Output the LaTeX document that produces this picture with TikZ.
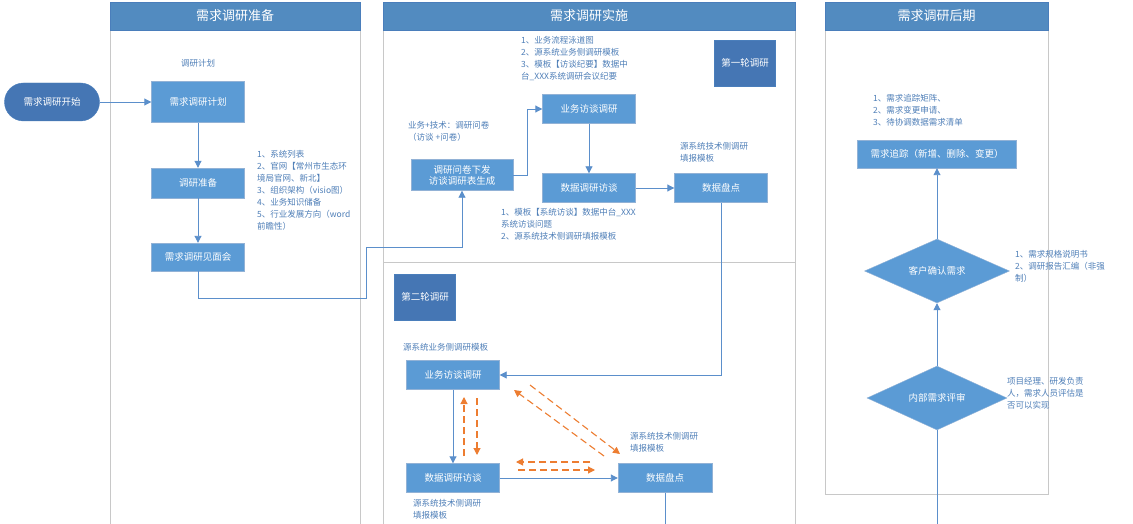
\documentclass[tikz,border=0pt]{standalone}
\usepackage{fontspec}
\setmainfont{Noto Sans CJK SC}
\usetikzlibrary{shapes.geometric,arrows.meta}
\definecolor{bx}{HTML}{5B9BD5}
\definecolor{bxd}{HTML}{4A7EBB}
\definecolor{dk}{HTML}{4576B4}
\definecolor{ln}{HTML}{5B8FCB}
\definecolor{tx}{HTML}{4F7FB8}
\definecolor{lane}{HTML}{C8C8C8}
\definecolor{org}{HTML}{ED7D31}
\tikzset{
 box/.style={draw=bxd!60,fill=bx,text=white,font=\fontsize{9.5}{11}\selectfont,minimum width=93pt,minimum height=29pt,align=center,inner sep=1pt},
 dbox/.style={draw=bxd,fill=dk,text=white,font=\fontsize{9.5}{11}\selectfont,minimum width=61pt,minimum height=46pt,inner sep=1pt},
 hdr/.style={draw=bxd,fill=bx!90!black,text=white,font=\fontsize{13}{15}\selectfont,minimum height=28pt,inner sep=0pt},
 dia/.style={diamond,aspect=2.3,draw=bxd!60,fill=bx,text=white,font=\fontsize{9.5}{11}\selectfont,inner sep=0pt,minimum width=145pt,minimum height=64pt},
 note/.style={text=tx,font=\fontsize{8.5}{12}\selectfont,align=left,inner sep=0pt},
 conn/.style={draw=ln,line width=0.9pt,-{Triangle[length=7pt,width=7pt]}},
 plain/.style={draw=ln,line width=0.9pt},
 od/.style={draw=org,line width=1.1pt,dash pattern=on 7pt off 4pt,-{Triangle[length=7pt,width=7pt]}},
 lanel/.style={draw=lane,line width=0.8pt}
}
\begin{document}
\begin{tikzpicture}[x=1pt,y=-1pt]
\useasboundingbox (0,0) rectangle (1133,524);
\fill[white] (0,0) rectangle (1133,524);
% lanes
\draw[lanel] (110,30) -- (110,524) (360,30) -- (360,524);
\draw[lanel] (383,30) -- (383,524) (795,30) -- (795,524) (383,262) -- (795,262);
\draw[lanel] (825,30) -- (825,494) -- (1048,494) -- (1048,30);
\node[hdr,minimum width=250pt] (h1) at (235,16) {需求调研准备};
\node[hdr,minimum width=412pt] (h2) at (589,16) {需求调研实施};
\node[hdr,minimum width=223pt] (h3) at (936.5,16) {需求调研后期};
% lane 1
\node[draw=bxd,fill=dk,text=white,rounded corners=19pt,minimum width=95pt,minimum height=38pt,font=\fontsize{9.5}{11}\selectfont] (start) at (52,102) {需求调研开始};
\node[box,minimum height=41pt] (plan) at (198,102) {需求调研计划};
\node[box,minimum height=30pt] (prep) at (198,183) {调研准备};
\node[box,minimum height=28pt] (meet) at (198,257) {需求调研见面会};
\node[note] (n0) at (198,63) {调研计划};
\node[note,anchor=north west] (n1) at (257,150) {1、系统列表\\2、官网【常州市生态环\\境局官网、新北】\\3、组织架构（visio图）\\4、业务知识储备\\5、行业发展方向（word\\前瞻性）};
\draw[conn] (start) -- (plan);
\draw[conn] (plan) -- (prep);
\draw[conn] (prep) -- (meet);
% lane 2 round 1
\node[box,minimum width=102pt,minimum height=31pt] (wj) at (462,175) {调研问卷下发\\访谈调研表生成};
\node[box] (yw1) at (589,109) {业务访谈调研};
\node[box] (sj1) at (589,188) {数据调研访谈};
\node[box] (pd1) at (721,188) {数据盘点};
\node[dbox] (r1) at (745,63) {第一轮调研};
\node[note,anchor=north west] (n2) at (521,36) {1、业务流程泳道图\\2、源系统业务侧调研模板\\3、模板【访谈纪要】数据中\\台\_XXX系统调研会议纪要};
\node[note,anchor=north west] (n3) at (408,121) {业务+技术：调研问卷\\（访谈 +问卷）};
\node[note,anchor=north west] (n4) at (680,142) {源系统技术侧调研\\填报模板};
\node[note,anchor=north west] (n5) at (501,208) {1、模板【系统访谈】数据中台\_XXX\\系统访谈问题\\2、源系统技术侧调研填报模板};
\draw[conn] (meet.south) -- (198,298) -- (366,298) -- (366,247) -- (462,247) -- (wj.south);
\draw[conn] (wj.east) -- (527,175) -- (527,109) -- (yw1.west);
\draw[conn] (yw1) -- (sj1);
\draw[conn] (sj1) -- (pd1);
% round 2
\node[dbox] (r2) at (425,297) {第二轮调研};
\node[box] (yw2) at (453,375) {业务访谈调研};
\node[box] (sj2) at (453,478) {数据调研访谈};
\node[box,minimum width=94pt] (pd2) at (665,478) {数据盘点};
\node[note,anchor=north west] (n6) at (403,343) {源系统业务侧调研模板};
\node[note,anchor=north west] (n7) at (630,432) {源系统技术侧调研\\填报模板};
\node[note,anchor=north west] (n8) at (413,499) {源系统技术侧调研\\填报模板};
\draw[conn] (pd1.south) -- (721,375) -- (yw2.east);
\draw[conn] (yw2.south) -- (sj2.north);
\draw[conn] (sj2) -- (pd2);
\draw[plain] (pd2.south) -- (665,524);
\coordinate (o1a) at (464,456); \coordinate (o1b) at (464,397);
\coordinate (o2a) at (477,398); \coordinate (o2b) at (477,455);
\coordinate (o3a) at (604,456); \coordinate (o3b) at (514,390);
\coordinate (o4a) at (530,385); \coordinate (o4b) at (620,454);
\coordinate (o5a) at (590,462); \coordinate (o5b) at (516,462);
\coordinate (o6a) at (518,470); \coordinate (o6b) at (595,470);
\draw[od] (o1a) -- (o1b);
\draw[od] (o2a) -- (o2b);
\draw[od] (o3a) -- (o3b);
\draw[od] (o4a) -- (o4b);
\draw[od] (o5a) -- (o5b);
\draw[od] (o6a) -- (o6b);
% lane 3
\node[box,minimum width=159pt,minimum height=28pt] (zz) at (937,154) {需求追踪（新增、删除、变更）};
\node[dia] (kh) at (937,271) {客户确认需求};
\node[dia,minimum width=140pt] (ps) at (937,398) {内部需求评审};
\node[note,anchor=north west] (n9) at (873,94) {1、需求追踪矩阵、\\2、需求变更申请、\\3、待协调数据需求清单};
\node[note,anchor=north west] (n10) at (1015,250) {1、需求规格说明书\\2、调研报告汇编（非强\\制）};
\node[note,anchor=north west] (n11) at (1007,377) {项目经理、研发负责\\人，需求人员评估是\\否可以实现};
\coordinate (bot) at (937,524);
\draw[plain] (bot) -- (ps.south);
\draw[conn] (ps.north) -- (kh.south);
\draw[conn] (kh.north) -- (zz.south);
\end{tikzpicture}
\end{document}
